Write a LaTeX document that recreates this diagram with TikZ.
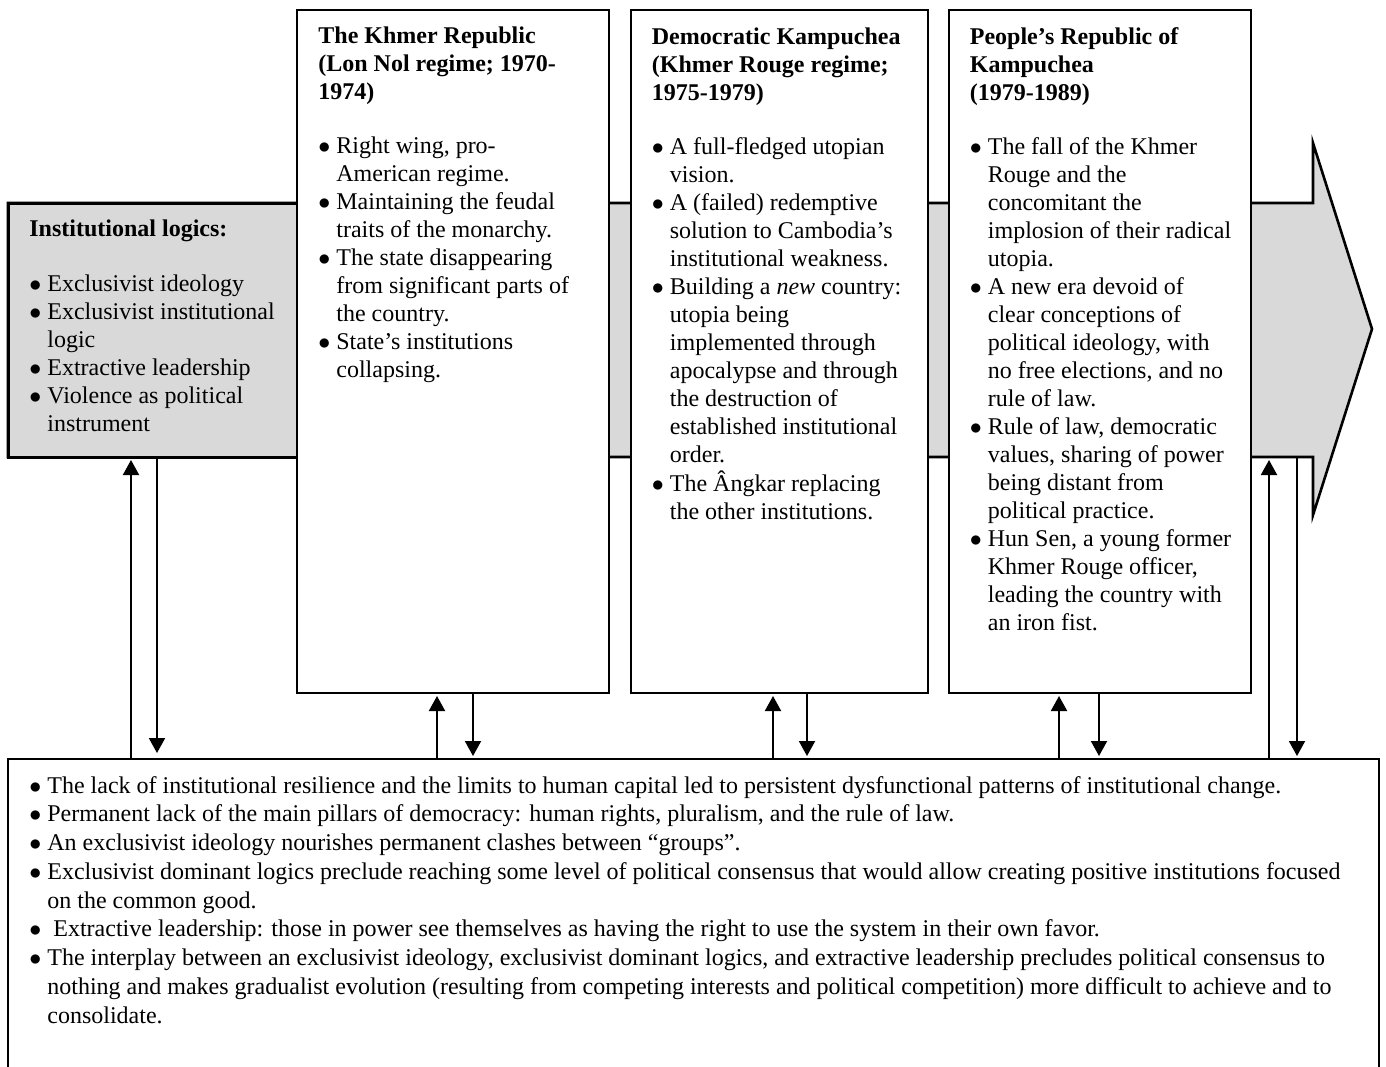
\documentclass[tikz,border=0pt]{standalone}
\usepackage{fontspec}
\setmainfont{Liberation Serif}
\usetikzlibrary{arrows.meta,positioning,calc}
\definecolor{logicgray}{RGB}{217,217,217}
\newcommand{\bul}{\makebox[9pt][l]{$\bullet$}}
\newcommand{\boxtitle}[1]{\multicolumn{2}{@{}l@{}}{\textbf{#1}}}

\tikzset{
  regbox/.style={draw, line width=0.6pt, fill=white, anchor=north west,
    inner sep=0pt, outer sep=0pt},
  boxtext/.style={anchor=base west, inner sep=0pt, align=left,
    font=\fontsize{12pt}{14pt}\selectfont},
  link/.style={line width=1pt, -{Triangle[length=7.5pt,width=8pt]},
    shorten >=1.5pt},
}

\begin{document}
\begin{tikzpicture}[x=0.5pt, y=-0.5pt]
    \useasboundingbox (0,0) rectangle (1386,1066);

    % Big arrow behind everything
    \draw[fill=logicgray, line width=1.3pt, line join=miter]
      (8,203) -- (1313,203) -- (1313,143) -- (1372,329) -- (1313,515)
      -- (1313,457) -- (8,457) -- cycle;
    \coordinate (bodyend) at (1313,457);

    % Institutional logics
    \node[draw, line width=1.5pt, fill=logicgray, anchor=north west,
      inner sep=0pt, outer sep=0pt, minimum width=144.5pt,
      minimum height=127pt] (logics) at (8,203) {};
    \node[boxtext] (logicstxt) at (29,236.7) {%
      \begin{tabular}[t]{@{}l@{}l@{}}
        \boxtitle{Institutional logics:}\\[13.3pt]
        \bul & Exclusivist ideology\\
        \bul & Exclusivist institutional\\
             & logic\\
        \bul & Extractive leadership\\
        \bul & Violence as political\\
             & instrument
      \end{tabular}};

    % Regime boxes
    \node[regbox, minimum width=156pt, minimum height=341.5pt]
      (khmerrep) at (297,10) {};
    \node[regbox, minimum width=148.5pt, minimum height=341.5pt]
      (demkamp) at (631,10) {};
    \node[regbox, minimum width=151pt, minimum height=341.5pt]
      (prk) at (949,10) {};

    \node[boxtext] (khmerreptxt) at (318,43) {%
      \begin{tabular}[t]{@{}l@{}l@{}}
        \boxtitle{The Khmer Republic}\\
        \boxtitle{(Lon Nol regime; 1970-}\\
        \boxtitle{1974)}\\[13.3pt]
        \bul & Right wing, pro-\\
             & American regime.\\
        \bul & Maintaining the feudal\\
             & traits of the monarchy.\\
        \bul & The state disappearing\\
             & from significant parts of\\
             & the country.\\
        \bul & State’s institutions\\
             & collapsing.
      \end{tabular}};

    \node[boxtext] (demkamptxt) at (651.5,44) {%
      \begin{tabular}[t]{@{}l@{}l@{}}
        \boxtitle{Democratic Kampuchea}\\
        \boxtitle{(Khmer Rouge regime;}\\
        \boxtitle{1975-1979)}\\[13.3pt]
        \bul & A full-fledged utopian\\
             & vision.\\
        \bul & A (failed) redemptive\\
             & solution to Cambodia’s\\
             & institutional weakness.\\
        \bul & Building a \emph{new} country:\\
             & utopia being\\
             & implemented through\\
             & apocalypse and through\\
             & the destruction of\\
             & established institutional\\
             & order.\\
        \bul & The Ângkar replacing\\
             & the other institutions.
      \end{tabular}};

    \node[boxtext] (prktxt) at (969.5,44) {%
      \begin{tabular}[t]{@{}l@{}l@{}}
        \boxtitle{People’s Republic of}\\
        \boxtitle{Kampuchea}\\
        \boxtitle{(1979-1989)}\\[13.3pt]
        \bul & The fall of the Khmer\\
             & Rouge and the\\
             & concomitant the\\
             & implosion of their radical\\
             & utopia.\\
        \bul & A new era devoid of\\
             & clear conceptions of\\
             & political ideology, with\\
             & no free elections, and no\\
             & rule of law.\\
        \bul & Rule of law, democratic\\
             & values, sharing of power\\
             & being distant from\\
             & political practice.\\
        \bul & Hun Sen, a young former\\
             & Khmer Rouge officer,\\
             & leading the country with\\
             & an iron fist.
      \end{tabular}};

    % Persistent patterns (bottom box, runs off the page)
    \node[regbox, minimum width=685.5pt, minimum height=200pt]
      (lessons) at (8,759) {};
    \node[boxtext, font=\fontsize{12pt}{14.375pt}\selectfont]
      (lessonstxt) at (29,793) {%
      \begin{tabular}[t]{@{}l@{}l@{}}
        \bul & The lack of institutional resilience and the limits to human capital led to persistent dysfunctional patterns of institutional change.\\
        \bul & Permanent lack of the main pillars of democracy: human rights, pluralism, and the rule of law.\\
        \bul & An exclusivist ideology nourishes permanent clashes between “groups”.\\
        \bul & Exclusivist dominant logics preclude reaching some level of political consensus that would allow creating positive institutions focused\\
             & on the common good.\\
        \bul & \hspace{3pt}Extractive leadership: those in power see themselves as having the right to use the system in their own favor.\\
        \bul & The interplay between an exclusivist ideology, exclusivist dominant logics, and extractive leadership precludes political consensus to\\
             & nothing and makes gradualist evolution (resulting from competing interests and political competition) more difficult to achieve and to\\
             & consolidate.
      \end{tabular}};

    % Feedback arrows
    \draw[link] (131,0 |- lessons.north) -- (131,0 |- logics.south);
    \draw[link, shorten >=3pt] (157,0 |- logics.south) -- (157,0 |- lessons.north);
    \draw[link] (437,0 |- lessons.north) -- (437,0 |- khmerrep.south);
    \draw[link] (473,0 |- khmerrep.south) -- (473,0 |- lessons.north);
    \draw[link] (773,0 |- lessons.north) -- (773,0 |- demkamp.south);
    \draw[link] (807,0 |- demkamp.south) -- (807,0 |- lessons.north);
    \draw[link] (1059,0 |- lessons.north) -- (1059,0 |- prk.south);
    \draw[link] (1099,0 |- prk.south) -- (1099,0 |- lessons.north);
    \draw[link] (1269,0 |- lessons.north) -- (1269,0 |- bodyend);
    \draw[link] (1297,0 |- bodyend) -- (1297,0 |- lessons.north);
\end{tikzpicture}
\end{document}
